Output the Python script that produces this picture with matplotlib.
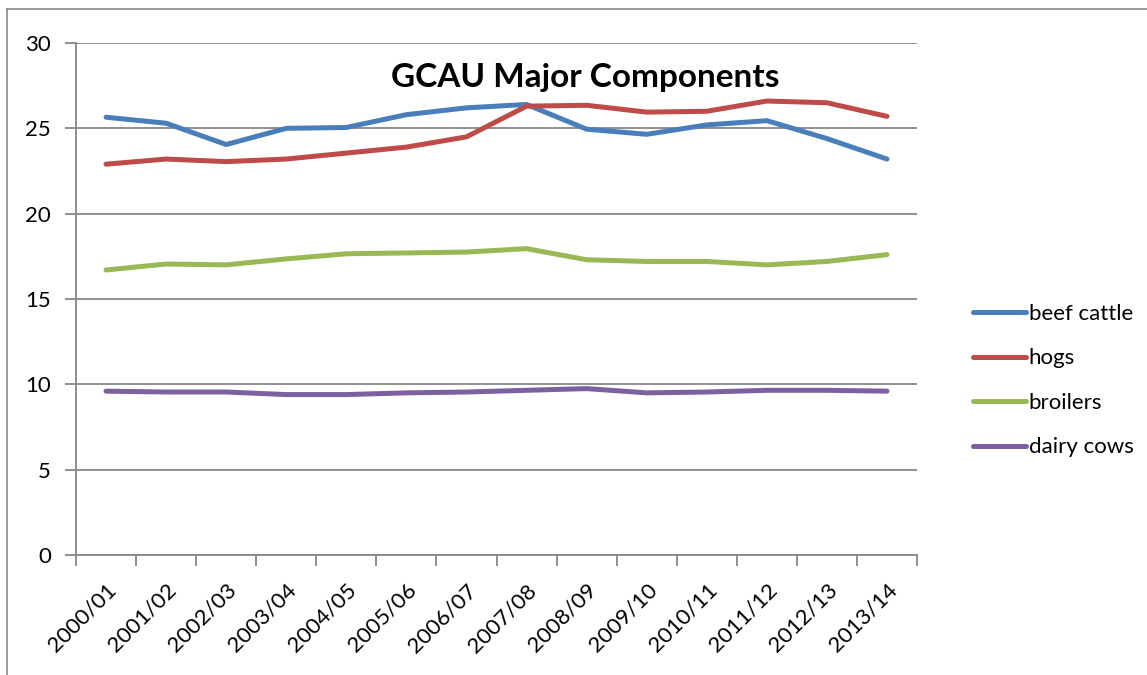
import numpy as np
import matplotlib.pyplot as plt
from matplotlib.lines import Line2D

plt.rcParams['font.family'] = ['Lato', 'DejaVu Sans']

years = ['2000/01', '2001/02', '2002/03', '2003/04', '2004/05', '2005/06', '2006/07',
         '2007/08', '2008/09', '2009/10', '2010/11', '2011/12', '2012/13', '2013/14']
beef_cattle = [25.65, 25.3, 24.05, 25.0, 25.05, 25.8, 26.2, 26.4, 24.95, 24.65, 25.2, 25.45, 24.4, 23.2]
hogs = [22.9, 23.2, 23.05, 23.2, 23.55, 23.9, 24.5, 26.3, 26.35, 25.95, 26.0, 26.6, 26.5, 25.7]
broilers = [16.7, 17.05, 17.0, 17.35, 17.65, 17.7, 17.75, 17.95, 17.3, 17.2, 17.2, 17.0, 17.2, 17.6]
dairy_cows = [9.6, 9.55, 9.55, 9.4, 9.4, 9.5, 9.55, 9.65, 9.75, 9.5, 9.55, 9.65, 9.65, 9.6]

W, H = 1147, 675
fig = plt.figure(figsize=(W / 100, H / 100), dpi=100)
ax = fig.add_axes([76 / W, 1 - 555 / H, (917 - 76) / W, (555 - 43) / H])

grid_c = '#878787'
x = np.arange(len(years))
series = [('beef cattle', beef_cattle, '#4A7EBB'),
          ('hogs', hogs, '#BE4B48'),
          ('broilers', broilers, '#98B954'),
          ('dairy cows', dairy_cows, '#7D60A0')]
for name, vals, col in series:
    ax.plot(x, vals, color=col, lw=3.6, solid_capstyle='round', label=name, zorder=3)

ax.set_xlim(-0.5, len(years) - 0.5)
ax.set_ylim(0, 30)
ax.set_yticks(range(0, 31, 5))
ax.yaxis.grid(True, color=grid_c, lw=1.3)
ax.set_axisbelow(True)

ax.set_xticks(np.arange(len(years) + 1) - 0.5)
ax.set_xticklabels([])
ax.set_xticks(x, minor=True)
ax.set_xticklabels(years, minor=True, rotation=45, ha='right', va='top',
                   rotation_mode='anchor', fontsize=16)
ax.tick_params(axis='x', which='major', length=8, width=1.3, color=grid_c, direction='out')
ax.tick_params(axis='x', which='minor', length=0, pad=18)
ax.tick_params(axis='y', length=8, width=1.3, color=grid_c, labelsize=16, pad=10)

for s in ['top', 'right']:
    ax.spines[s].set_visible(False)
for s in ['left', 'bottom']:
    ax.spines[s].set_color(grid_c)
    ax.spines[s].set_linewidth(1.3)

fig.text(585 / W, 1 - 78 / H, 'GCAU Major Components', ha='center', va='center',
         fontsize=24, fontweight='bold')

leg = fig.legend(loc='upper left', bbox_to_anchor=(953 / W, 1 - 284 / H), frameon=False,
                 fontsize=16, handlelength=2.4, handletextpad=0.1, labelspacing=1.1)
for h in leg.get_lines():
    h.set_linewidth(3.6)

# outer chart border
fig.add_artist(Line2D([7 / W, 7 / W], [0, 1 - 9 / H], color='#8a8a8a', lw=1.2))
fig.add_artist(Line2D([7 / W, 1], [1 - 9 / H, 1 - 9 / H], color='#8a8a8a', lw=1.2))

fig.savefig('out.png', dpi=100)
